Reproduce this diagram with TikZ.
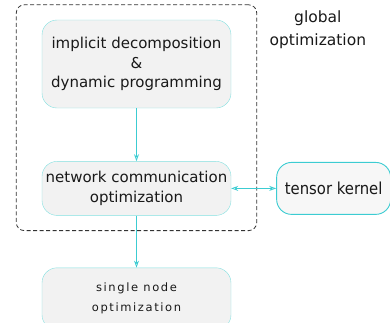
\documentclass[tikz,border=0pt]{standalone}
\usepackage{fontspec}
\setmainfont{DejaVu Sans}
\newfontfamily\condfont{DejaVu Sans Condensed}
\usepackage{tikz}
\usetikzlibrary{positioning,arrows.meta,fit}
\definecolor{boxline}{RGB}{130,224,224}
\definecolor{linkcol}{RGB}{60,204,210}
\definecolor{boxfill}{RGB}{242,242,242}
\definecolor{txt}{RGB}{25,25,25}

\begin{document}
\begin{tikzpicture}[x=1pt,y=-1pt,
		box/.style={draw=boxline,fill=boxfill,rounded corners=15pt,minimum width=189pt,align=center,text=txt,font=\fontsize{15}{19.5}\selectfont},
		link/.style={draw=linkcol,line width=0.7pt,-{Stealth[open,length=7pt,width=5pt]}}]
		\clip (0,0) rectangle (390,322);
		\node(1)[box,minimum height=88pt] at (136.5,64) {implicit decomposition\\\&\\dynamic programming};
		\node(2)[box,minimum height=54pt,below=53pt of 1] {network communication\\optimization};
		\node(3)[box,minimum height=62pt,below=52pt of 2,font=\addfontfeature{LetterSpace=14}\fontsize{11.5}{20}\selectfont] {single node\\optimization};
		\node(4)[box,draw=linkcol,line width=0.9pt,fill=boxfill!60,minimum width=114pt,minimum height=52pt,right=45pt of 2,font=\condfont\fontsize{16.5}{20}\selectfont] {tensor kernel};
		% dashed frame round the global part
		\node(5)[fit=(1)(2),draw=black!80,line width=0.8pt,dash pattern=on 4pt off 2.5pt,rounded corners=8pt,inner xsep=25.5pt,inner ysep=15pt] {};
		\node[right=9pt of 5.north east,anchor=north west,yshift=-3pt,align=center,text=txt,font=\fontsize{15.5}{23}\selectfont] {global\\optimization};
		\path
			(1) edge[link] (2)
			(2) edge[link] (3)
			(2) edge[link,{Stealth[open,length=7pt,width=5pt]}-{Stealth[open,length=7pt,width=5pt]}] (4);
\end{tikzpicture}
\end{document}
